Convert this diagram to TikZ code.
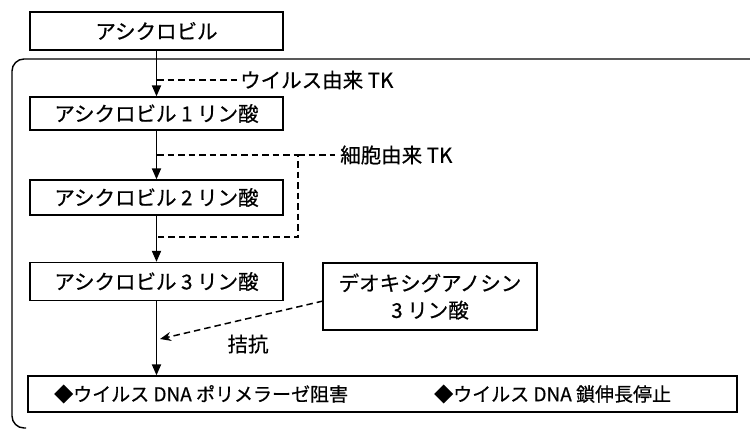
\documentclass[tikz,border=0pt]{standalone}
\usepackage{fontspec}
\setmainfont{Noto Sans CJK JP}[AutoFakeBold=0.6]
\usetikzlibrary{arrows.meta}
\tikzset{
  box/.style={draw, line width=1.3pt, minimum width=253pt, inner sep=0pt, font=\fontsize{20.5}{24}\selectfont\bfseries},
  arr/.style={line width=1.8pt, -{Triangle[length=11pt,width=9pt]}},
  dsh/.style={line width=1.5pt, dash pattern=on 6.5pt off 4pt},
  lbl/.style={font=\fontsize{20.5}{24}\selectfont\bfseries, inner sep=0pt},
  lblsm/.style={font=\fontsize{19}{23}\selectfont\bfseries, inner sep=0pt}
}
\begin{document}
\begin{tikzpicture}[x=1pt,y=-1pt]
\useasboundingbox (0,0) rectangle (750,429);
% outer frame (open on the right)
\coordinate (o1) at (751,59);
\coordinate (o2) at (12,59);
\coordinate (o3) at (12,428);
\coordinate (o4) at (26,428);
\draw[line width=1.4pt, rounded corners=12pt] (o1) -- (o2) -- (o3) -- (o4);
% boxes
\node[box, minimum height=38pt] (A) at (156.5,31) {アシクロビル};
\node[box, minimum height=33pt] (B) at (156.5,113.5) {アシクロビル 1 リン酸};
\node[box, minimum height=35pt] (C) at (156.5,197.5) {アシクロビル 2 リン酸};
\node[box, minimum height=38pt] (D) at (156.5,281.5) {アシクロビル 3 リン酸};
\node[box, minimum width=214pt, minimum height=67pt, align=center] (E) at (430,296.5) {デオキシグアノシン\\[3pt]3 リン酸};
\node[box, minimum width=709pt, minimum height=36pt] (F) at (382.5,394) {};
\node[lblsm, anchor=west] (F1) at (54,394) {◆ウイルス DNA ポリメラーゼ阻害};
\node[lblsm, anchor=west] (F2) at (434,394) {◆ウイルス DNA 鎖伸長停止};
% main arrows
\draw[arr] (A) -- (B);
\draw[arr] (B) -- (C);
\draw[arr] (C) -- (D);
\draw[arr] (D.south) -- (D.south |- F.north);
% viral TK
\coordinate (v1) at (157,80);
\coordinate (v2) at (237,80);
\node[lbl, anchor=west] (VT) at (240,80) {ウイルス由来 TK};
\draw[dsh] (v1) -- (v2);
% cellular TK
\coordinate (c1) at (157,155);
\coordinate (c2) at (298,155);
\coordinate (c3) at (298,237);
\coordinate (c4) at (157,237);
\coordinate (c5) at (335,155);
\node[lbl, anchor=west] (CT) at (340,155) {細胞由来 TK};
\draw[dsh] (c1) -- (c2) -- (c3) -- (c4);
\draw[dsh] (c2) -- (c5);
% antagonism
\coordinate (e1) at (323,301);
\coordinate (e2) at (160,339);
\draw[dsh, -{Stealth[length=11pt,width=9pt]}] (e1) -- (e2);
\node[lbl] (K) at (248,344) {拮抗};
\end{tikzpicture}
\end{document}
